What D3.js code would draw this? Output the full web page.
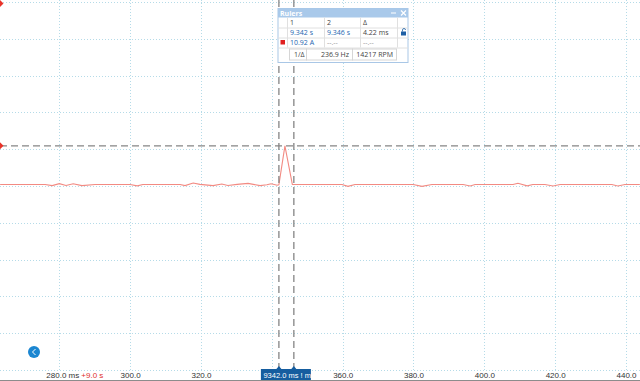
<!DOCTYPE html>
<head>
  <meta charset="utf-8">
  <script src="https://d3js.org/d3.v7.min.js"></script>
  <style>
    body { margin:0; background:#fff; overflow:hidden; }
    svg { display:block; font-family:"Open Sans", "Noto Sans", sans-serif; }
  </style>
</head>
<body>
  <div class="body"></div>
  <script>
    // trace samples: time (ms, after the +9.0 s offset) and current (A)
    const times = [263.3, 276.0, 278.0, 280.0, 281.9, 283.9, 286.4, 290.1, 300.0, 302.0, 303.6,
      314.1, 315.5, 317.8, 319.7, 323.4, 325.9, 327.6, 330.2, 333.3, 336.7, 338.6, 339.8, 341.5,
      342.0, 343.7, 345.8, 359.8, 361.5, 363.5, 379.9, 382.4, 385.2, 394.0, 396.0, 397.4,
      408.1, 409.5, 412.1, 413.7, 417.1, 419.4, 421.4, 436.0, 437.7, 439.7, 443.9];
    const amps = [0.4, 0.4, 0.1, 0.65, 0.15, 0.6, 0.1, 0.4, 0.4, 0.05, 0.4,
      0.4, 0.1, 0.8, 0.45, 0.1, 0.55, 0.15, 0.45, 0.7, 0.1, 0.35, 0.6, 0.2,
      0.3, 10.9, 0.4, 0.4, -0.1, 0.4, 0.4, -0.1, 0.4, 0.4, 0.0, 0.4,
      0.4, 0.75, 0.05, 0.4, 0.4, 0.0, 0.4, 0.4, 0.0, 0.4, 0.4];

    const xTicks = [280, 300, 320, 340, 360, 380, 400, 420, 440];
    const yTicks = [-50, -40, -30, -20, -10, 0, 10, 20, 30, 40, 50];

    const ruler1 = 342.0, ruler2 = 346.22;  // ms
    const rulerLevel = 10.92;               // A

    // rulers table text
    const rulerHead = ["1", "2", "\u0394"];
    const rulerTimes = ["9.342 s", "9.346 s", "4.22 ms"];
    const rulerAmps = ["10.92 A", "--.--", "--.--"];
    const rulerFreq = ["1/\u0394", "236.9 Hz", "14217 RPM"];

    const width = 640, height = 381;

    const x = d3.scaleLinear().domain([263.26, 443.95]).range([0, width]);
    const y = d3.scaleLinear().domain([-50, 50]).range([370, 2]);

    const svg = d3.select(".body").append("svg")
      .attr("width", width)
      .attr("height", height);

    // dotted grid
    svg.append("g").selectAll("line").data(xTicks).join("line")
      .attr("x1", d => Math.round(x(d)) + 0.5).attr("x2", d => Math.round(x(d)) + 0.5)
      .attr("y1", 0).attr("y2", 372)
      .attr("stroke", "#b5dbe8").attr("stroke-dasharray", "1,2");
    svg.append("g").selectAll("line").data(yTicks).join("line")
      .attr("x1", 0).attr("x2", width)
      .attr("y1", d => Math.round(y(d)) + 0.5).attr("y2", d => Math.round(y(d)) + 0.5)
      .attr("stroke", "#b5dbe8").attr("stroke-dasharray", "1,2");

    // signal
    const pts = times.map((t, i) => [t, amps[i]]);
    svg.append("path")
      .datum(pts)
      .attr("fill", "none")
      .attr("stroke", "#f28a82")
      .attr("stroke-width", 1.1)
      .attr("d", d3.line().x(d => x(d[0])).y(d => y(d[1])));

    // ruler lines
    svg.append("line")
      .attr("x1", 0).attr("x2", width)
      .attr("y1", y(rulerLevel)).attr("y2", y(rulerLevel))
      .attr("stroke", "#858585").attr("stroke-width", 1.3).attr("stroke-dasharray", "7,4");
    svg.append("g").selectAll("line").data([ruler1, ruler2]).join("line")
      .attr("x1", d => x(d)).attr("x2", d => x(d))
      .attr("y1", 0).attr("y2", 370)
      .attr("stroke", "#858585").attr("stroke-width", 1.3).attr("stroke-dasharray", "7,4");

    // left edge markers
    svg.append("path")
      .attr("d", "M0," + (y(rulerLevel) - 3.5) + "L3.5," + y(rulerLevel) + "L0," + (y(rulerLevel) + 3.5) + "Z")
      .attr("fill", "#e8332a");
    svg.append("path")
      .attr("d", "M0,0L3.5,3.5L0,7Z")
      .attr("fill", "#e8332a");

    // bottom axis (the 340 label sits under the ruler flag)
    const axis = svg.append("g")
      .attr("transform", "translate(0,370)")
      .call(d3.axisBottom(x).tickValues(xTicks).tickSize(0)
        .tickFormat(d => d === 280 ? "280.0 ms" : d === 340 ? "" : d3.format(".1f")(d)));
    axis.select(".domain").remove();
    axis.selectAll("text")
      .attr("y", 8)
      .attr("dy", 0)
      .attr("x", d => d === 280 ? 3 : 0)
      .attr("font-size", 8)
      .attr("font-family", "Liberation Sans, Arial, sans-serif")
      .attr("fill", "#333");
    svg.append("text")
      .attr("x", x(280) + 22).attr("y", 378)
      .attr("font-size", 8).attr("fill", "#e0302a")
      .attr("font-family", "Liberation Sans, Arial, sans-serif")
      .text("+9.0 s");

    svg.append("line")
      .attr("x1", 0).attr("x2", width).attr("y1", 380.5).attr("y2", 380.5)
      .attr("stroke", "#8c8c8c");

    // ruler time flag at the bottom
    const flagX = x(ruler1) - 18;
    svg.append("rect")
      .attr("x", flagX).attr("y", 369).attr("width", 50).attr("height", 11)
      .attr("fill", "#155d9f");
    svg.append("g").selectAll("path").data([ruler1, ruler2]).join("path")
      .attr("d", d => "M" + (x(d) - 2.5) + ",369L" + x(d) + ",366L" + (x(d) + 2.5) + ",369Z")
      .attr("fill", "#155d9f");
    svg.append("text")
      .attr("x", flagX + 2.5).attr("y", 377.5)
      .attr("font-size", 7.5).attr("fill", "#fff")
      .attr("font-family", "Liberation Sans, Arial, sans-serif")
      .text("9342.0 ms  ! ms");

    // blue round button
    svg.append("circle")
      .attr("cx", 34).attr("cy", 352).attr("r", 6)
      .attr("fill", "#1b86d1");
    svg.append("path")
      .attr("d", "M35.5,349L32.5,352L35.5,355")
      .attr("fill", "none").attr("stroke", "#fff").attr("stroke-width", 1);

    // rulers panel
    const px = 278, py = 8.5, pw = 130, ph = 54;
    const panel = svg.append("g");
    panel.append("rect")
      .attr("x", px).attr("y", py).attr("width", pw).attr("height", ph)
      .attr("fill", "#fff").attr("stroke", "#a9c7e6");
    panel.append("rect")
      .attr("x", px).attr("y", py).attr("width", pw).attr("height", 9)
      .attr("fill", "#a9c9ea");
    panel.append("text")
      .attr("x", px + 2).attr("y", py + 7.2)
      .attr("font-size", 7).attr("font-weight", "bold").attr("fill", "#fff")
      .text("Rulers");
    panel.append("line")
      .attr("x1", px + pw - 17).attr("x2", px + pw - 12)
      .attr("y1", py + 4.5).attr("y2", py + 4.5)
      .attr("stroke", "#fff").attr("stroke-width", 1);
    panel.append("path")
      .attr("d", "M" + (px + pw - 7) + "," + (py + 2) + "l5,5m0,-5l-5,5")
      .attr("stroke", "#fff").attr("stroke-width", 1.2);

    const colX = [px + 9, px + 46, px + 82, px + 119];
    const rowY = [py + 9, py + 19, py + 29, py + 39];
    // cell borders for the first three rows
    panel.append("g").selectAll("line").data(colX).join("line")
      .attr("x1", d => d + 0.5).attr("x2", d => d + 0.5)
      .attr("y1", rowY[0]).attr("y2", rowY[3])
      .attr("stroke", "#e0e0e0");
    panel.append("g").selectAll("line").data(rowY.slice(1)).join("line")
      .attr("x1", px).attr("x2", px + pw)
      .attr("y1", d => d + 0.5).attr("y2", d => d + 0.5)
      .attr("stroke", "#e0e0e0");

    panel.append("g").selectAll("text").data(rulerHead).join("text")
      .attr("x", (d, i) => colX[i] + 3).attr("y", rowY[0] + 7.5)
      .attr("font-size", 7).attr("fill", "#444").text(d => d);
    panel.append("g").selectAll("text").data(rulerTimes).join("text")
      .attr("x", (d, i) => colX[i] + 3).attr("y", rowY[1] + 7.5)
      .attr("font-size", 7).attr("fill", (d, i) => i < 2 ? "#2466b0" : "#444").text(d => d);
    panel.append("g").selectAll("text").data(rulerAmps).join("text")
      .attr("x", (d, i) => colX[i] + 3).attr("y", rowY[2] + 7.5)
      .attr("font-size", 7).attr("fill", (d, i) => i < 1 ? "#2466b0" : "#999").text(d => d);
    panel.append("rect")
      .attr("x", px + 2.5).attr("y", rowY[2] + 2.5).attr("width", 4.5).attr("height", 4.5)
      .attr("fill", "#e02020");

    // lock icon
    panel.append("rect")
      .attr("x", px + 123).attr("y", rowY[1] + 4).attr("width", 5).attr("height", 4)
      .attr("fill", "#1d5fa5");
    panel.append("path")
      .attr("d", "M" + (px + 124.5) + "," + (rowY[1] + 4) + "v-1.5a1.5,1.5 0 0 1 3,0")
      .attr("fill", "none").attr("stroke", "#1d5fa5").attr("stroke-width", 0.8);

    // 1/delta row
    const fBoxes = [[px + 11, 17], [px + 28, 46], [px + 74, 44]];
    panel.append("g").selectAll("rect").data(fBoxes).join("rect")
      .attr("x", d => d[0] + 0.5).attr("y", rowY[3] + 1.5)
      .attr("width", d => d[1]).attr("height", 11)
      .attr("fill", "none").attr("stroke", "#d6d6d6");
    panel.append("g").selectAll("text").data(rulerFreq).join("text")
      .attr("x", (d, i) => i === 0 ? fBoxes[0][0] + 5 : fBoxes[i][0] + fBoxes[i][1] - 3)
      .attr("y", rowY[3] + 9.5)
      .attr("text-anchor", (d, i) => i === 0 ? "start" : "end")
      .attr("font-size", 7).attr("fill", "#444").text(d => d);
  </script>
</body>
